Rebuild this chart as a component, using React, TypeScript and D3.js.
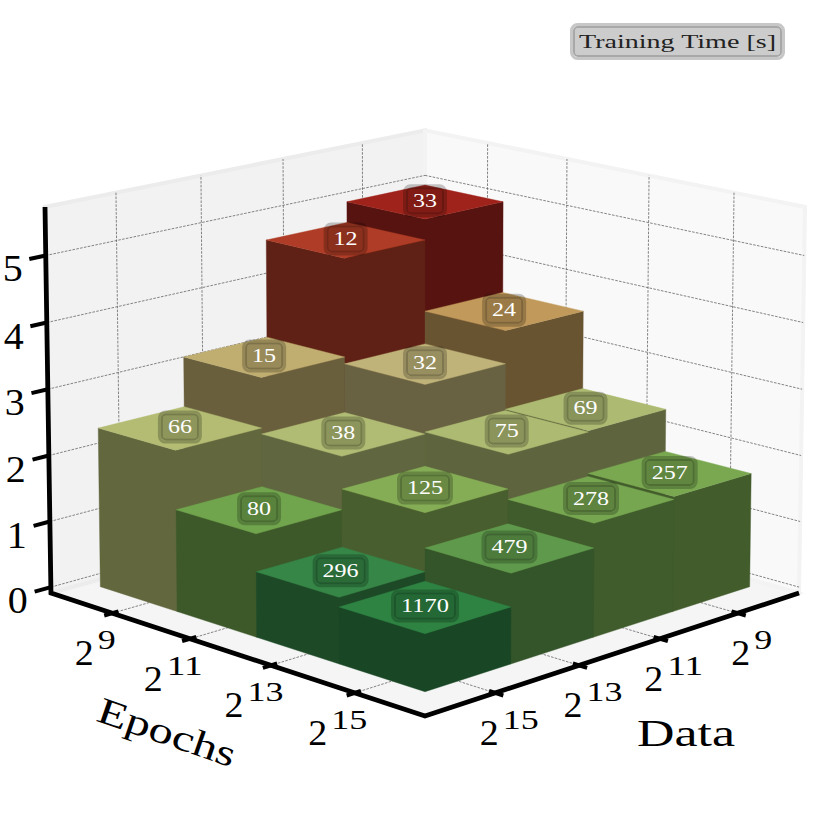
import React from "react";
import * as d3 from "d3";

const epochLabels = ["9", "11", "13", "15"];
const dataLabels = ["9", "11", "13", "15"];
const zTicks = [0, 1, 2, 3, 4, 5];

// rows follow epochs (left to front), columns follow data (right to front)
const trainingTimes = [
  [33, 12, 15, 66],
  [24, 32, 38, 80],
  [69, 75, 125, 296],
  [257, 278, 479, 1170],
];
const barHeights = [
  [4.93, 4.605, 3.095, 2.33],
  [3.5, 2.99, 2.24, 1.44],
  [2.29, 2.27, 1.75, 0.88],
  [1.64, 1.595, 1.23, 0.74],
];
const topColors = [
  ["#a0231b", "#af3c26", "#c0ae70", "#b3bc72"],
  ["#c19a5b", "#bfb379", "#b0bb73", "#70a44d"],
  ["#acba72", "#adba72", "#85ad55", "#358647"],
  ["#79a850", "#76a650", "#5f9a4c", "#2e8343"],
];

const zMin = -0.09;
const zMax = 5.72;

// camera fitted to the picture: e and d run 0..1 across the floor
const project = (e: number, d: number, z: number): [number, number] => {
  const h = z - zMin;
  const s = e + d;
  const w = 1 - 0.0752 * s - 0.0025 * h;
  return [425 - (345.9 * (d - e)) / w, (488.5 + 59.9 * s - 61.96 * h) / w];
};

const bandE = d3.scaleBand<number>().domain([0, 1, 2, 3]).range([0.036, 0.908]);
const tickScale = d3.scalePoint<number>().domain([0, 1, 2, 3]).range([0.176, 0.825]);
const tickPos = (i: number) => tickScale(i)!;
const line = d3.line();
const poly = (pts: [number, number, number][]) =>
  line(pts.map((p) => project(p[0], p[1], p[2])))! + "Z";

const SERIF = "'Liberation Serif', serif";

function Grid() {
  const lines: string[] = [];
  const idx = [0, 1, 2, 3];
  zTicks.forEach((z) => {
    lines.push(poly([[0, 1, z], [0, 0, z]]));
    lines.push(poly([[0, 0, z], [1, 0, z]]));
  });
  idx.forEach((i) => {
    const t = tickPos(i);
    lines.push(poly([[0, t, zMin], [0, t, zMax]]));
    lines.push(poly([[t, 0, zMin], [t, 0, zMax]]));
    lines.push(poly([[t, 0, zMin], [t, 1, zMin]]));
    lines.push(poly([[0, t, zMin], [1, t, zMin]]));
  });
  return (
    <g>
      <path d={poly([[0, 0, zMin], [0, 1, zMin], [1, 1, zMin], [1, 0, zMin]])} fill="#f5f5f5" stroke="#f2f2f2" strokeWidth={3} />
      <path d={poly([[0, 1, zMin], [0, 0, zMin], [0, 0, zMax], [0, 1, zMax]])} fill="#f2f2f2" stroke="#ececec" strokeWidth={4} />
      <path d={poly([[0, 0, zMin], [1, 0, zMin], [1, 0, zMax], [0, 0, zMax]])} fill="#f9f9f9" stroke="#f3f3f3" strokeWidth={4} />
      {lines.map((p, i) => (
        <path key={i} d={p.replace("Z", "")} fill="none" stroke="#666" strokeWidth={0.8} strokeDasharray="2.6 1.3" />
      ))}
    </g>
  );
}

function Bars() {
  const cells = d3
    .cross([0, 1, 2, 3], [0, 1, 2, 3])
    .sort((a, b) => a[0] + a[1] - b[0] - b[1]);
  const w = bandE.bandwidth();
  return (
    <g>
      {cells.map(([i, j]) => {
        const e0 = bandE(i)!;
        const d0 = bandE(j)!;
        const e1 = e0 + w;
        const d1 = d0 + w;
        const z = barHeights[i][j];
        const side = d3.rgb(topColors[i][j]).darker(1.7).formatHex();
        return (
          <g key={`${i}-${j}`}>
            <path
              d={poly([[e0, d1, zMin], [e1, d1, zMin], [e1, d0, zMin], [e1, d0, z], [e1, d1, z], [e0, d1, z]])}
              fill={side}
              stroke={side}
              strokeWidth={0.4}
            />
            <path d={poly([[e0, d0, z], [e1, d0, z], [e1, d1, z], [e0, d1, z]])} fill={topColors[i][j]} stroke={topColors[i][j]} strokeWidth={0.4} />
          </g>
        );
      })}
    </g>
  );
}

function Badge({ cx, cy, w, h, text, color, size, textW }: any) {
  const x = cx - w / 2;
  const y = cy - h / 2;
  return (
    <g>
      <rect x={x + 1.5} y={y + 1.5} width={w - 3} height={h - 3} rx={6} fill="none" stroke="#000" strokeOpacity={0.22} strokeWidth={3} />
      <rect x={x + 4} y={y + 4} width={w - 8} height={h - 8} rx={4} fill="none" stroke="#000" strokeOpacity={0.34} strokeWidth={2} />
      <rect x={x + 5} y={y + 5} width={w - 10} height={h - 10} rx={3} fill="#000" fillOpacity={0.2} />
      <text
        x={cx}
        y={cy + size * 0.32}
        textAnchor="middle"
        fontFamily={SERIF}
        fontSize={size}
        fill={color}
        textLength={textW}
        lengthAdjust="spacingAndGlyphs"
      >
        {text}
      </text>
    </g>
  );
}

function BarLabels() {
  const w = bandE.bandwidth();
  return (
    <g>
      {d3.cross([0, 1, 2, 3], [0, 1, 2, 3]).map(([i, j]) => {
        const [cx, cy] = project(bandE(i)! + w / 2, bandE(j)! + w / 2, barHeights[i][j]);
        const t = String(trainingTimes[i][j]);
        return (
          <Badge key={`${i}-${j}`} cx={cx} cy={cy - 1} w={t.length * 12 + 20} h={33} text={t} color="#fff" size={19} textW={t.length * 12} />
        );
      })}
    </g>
  );
}

// base 19px wide, exponent digits 18px each, as in the reference's wide serif
function PowerLabel({ x, y, exp }: { x: number; y: number; exp: string }) {
  const supW = exp.length * 18;
  const left = x - (19 + 4 + supW) / 2;
  return (
    <g fontFamily={SERIF} fill="#000">
      <text x={left} y={y} fontSize={36} textLength={19} lengthAdjust="spacingAndGlyphs">
        2
      </text>
      <text x={left + 23} y={y - 16} fontSize={27} textLength={supW} lengthAdjust="spacingAndGlyphs">
        {exp}
      </text>
    </g>
  );
}

function Axes() {
  const corner = project(0, 1, zMin);
  const front = project(1, 1, zMin);
  const right = project(1, 0, zMin);
  const top = project(0, 1, zMax);
  return (
    <g>
      <path d={line([top, corner, front, right])!} fill="none" stroke="#000" strokeWidth={4.8} strokeLinejoin="miter" />
      {zTicks.map((z) => {
        const a = project(0, 1, z);
        const b = project(0, 1.04, z);
        return (
          <g key={z}>
            <path d={line([a, b])!} stroke="#000" strokeWidth={4} />
            <text x={a[0] - 33} y={a[1] + 26} textAnchor="middle" fontFamily={SERIF} fontSize={37} textLength={20} lengthAdjust="spacingAndGlyphs">
              {z}
            </text>
          </g>
        );
      })}
      {epochLabels.map((l, i) => {
        const t = tickPos(i);
        const a = project(t, 1, zMin);
        return (
          <g key={l}>
            <path d={line([project(t, 0.985, zMin), project(t, 1.02, zMin)])!} stroke="#000" strokeWidth={4} />
            <PowerLabel x={a[0] - 17} y={a[1] + 52} exp={l} />
          </g>
        );
      })}
      {dataLabels.map((l, i) => {
        const t = tickPos(i);
        const a = project(1, t, zMin);
        return (
          <g key={l}>
            <path d={line([project(0.985, t, zMin), project(1.02, t, zMin)])!} stroke="#000" strokeWidth={4} />
            <PowerLabel x={a[0] + 14} y={a[1] + 52} exp={l} />
          </g>
        );
      })}
      <text
        transform="translate(163,744) rotate(19)"
        textAnchor="middle"
        fontFamily={SERIF}
        fontSize={37}
        textLength={144}
        lengthAdjust="spacingAndGlyphs"
      >
        Epochs
      </text>
      <text x={686} y={746} textAnchor="middle" fontFamily={SERIF} fontSize={37} textLength={98} lengthAdjust="spacingAndGlyphs">
        Data
      </text>
    </g>
  );
}

export default function App() {
  return (
    <svg width={828} height={828} style={{ position: "absolute", left: 0, top: 0, background: "#fff" }}>
      <Grid />
      <Bars />
      <Axes />
      <BarLabels />
      <Badge cx={677.5} cy={41.5} w={215} h={37} text="Training Time [s]" color="#222" size={19} textW={197} />
    </svg>
  );
}
